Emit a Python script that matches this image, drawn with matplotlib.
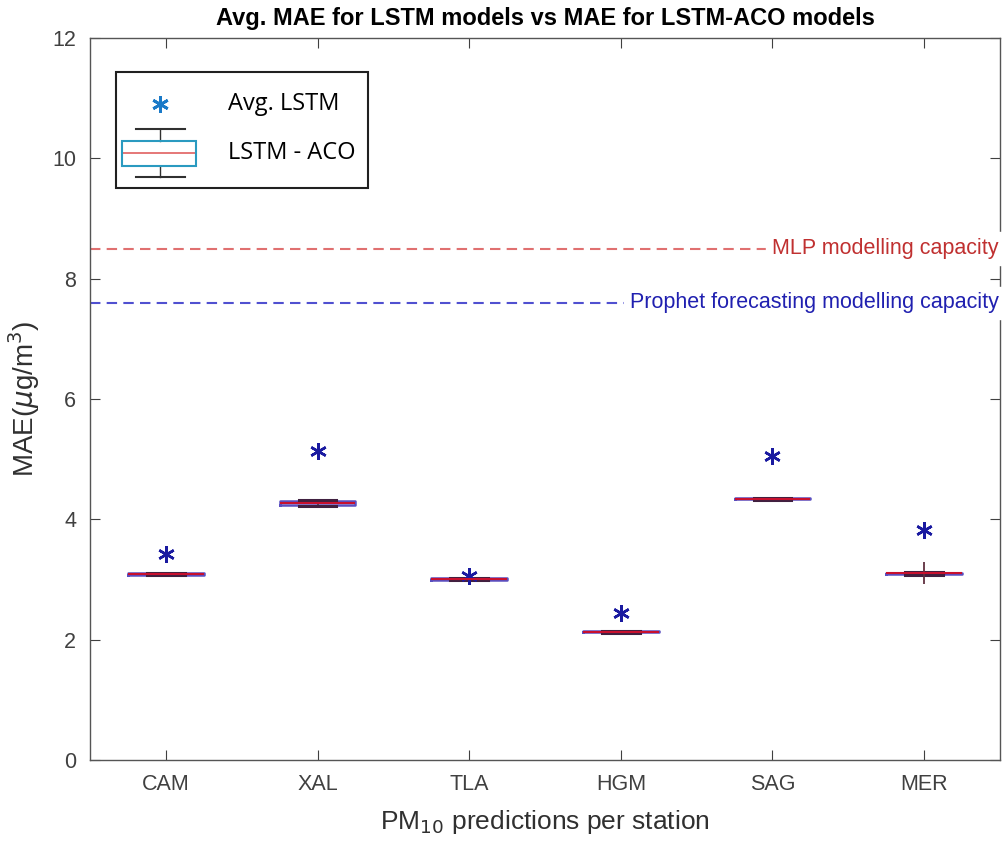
import matplotlib
matplotlib.use("Agg")
import matplotlib.pyplot as plt
from matplotlib.patches import Rectangle
from matplotlib.lines import Line2D

stations = ["CAM", "XAL", "TLA", "HGM", "SAG", "MER"]
avg_lstm = [3.42, 5.13, 3.05, 2.45, 5.05, 3.82]
aco_med = [3.09, 4.27, 3.01, 2.13, 4.34, 3.10]
aco_q1 = [3.08, 4.24, 3.00, 2.12, 4.33, 3.09]
aco_q3 = [3.10, 4.30, 3.02, 2.14, 4.35, 3.11]
aco_lo = [3.07, 4.22, 2.99, 2.11, 4.32, 3.08]
aco_hi = [3.11, 4.32, 3.03, 2.15, 4.36, 3.12]
aco_outliers = [[], [], [], [], [], [3.10]]
mlp_capacity = 8.5
prophet_capacity = 7.6

plt.rcParams['font.family'] = ['Liberation Sans', 'DejaVu Sans']
fig = plt.figure(figsize=(10.06, 8.43), dpi=100)
ax = fig.add_axes([90/1006, 83/843, 910/1006, 722/843])

gray = '#404040'
stats = []
for i, s in enumerate(stations):
    stats.append(dict(label=s, med=aco_med[i], q1=aco_q1[i], q3=aco_q3[i],
                      whislo=aco_lo[i], whishi=aco_hi[i], fliers=aco_outliers[i]))
pos = list(range(1, len(stations) + 1))
ax.bxp(stats, positions=pos, widths=0.5, showfliers=True, patch_artist=False,
       boxprops=dict(color='#5a4fc0', linewidth=1.8),
       medianprops=dict(color='#c8102e', linewidth=1.5),
       whiskerprops=dict(color='#303030', linewidth=1.2),
       capprops=dict(color='#402040', linewidth=2.2), capwidths=0.25,
       flierprops=dict(marker='+', markersize=16, markeredgewidth=1.3,
                       markeredgecolor='#603040', linestyle='none'))
ax.plot(pos, avg_lstm, linestyle='none', marker=(6, 2, 0), markersize=12,
        markeredgewidth=1.8, color='#1a1aa0')

ax.axhline(mlp_capacity, color='#e07070', linestyle=(0, (5, 3)), linewidth=1.5, zorder=1)
ax.axhline(prophet_capacity, color='#5050d0', linestyle=(0, (5, 3)), linewidth=1.5, zorder=1)
ax.text(6.49, mlp_capacity, 'MLP modelling capacity', color='#c03030', fontsize=15.5,
        ha='right', va='center', backgroundcolor='white')
ax.text(6.49, prophet_capacity, 'Prophet forecasting modelling capacity', color='#2020b0',
        fontsize=15.5, ha='right', va='center', backgroundcolor='white')

ax.set_xlim(0.5, 6.5)
ax.set_ylim(0, 12)
ax.set_xticks(pos)
ax.set_xticklabels(stations)
ax.set_yticks([0, 2, 4, 6, 8, 10, 12])
ax.tick_params(direction='in', top=True, right=True, labelsize=15.5, colors=gray,
               length=7, pad=10)
for sp in ax.spines.values():
    sp.set_color('#555555')
    sp.set_linewidth(1.0)

ax.set_title('Avg. MAE for LSTM models vs MAE for LSTM-ACO models', fontsize=17,
             fontweight='bold', pad=9)
ax.set_ylabel('MAE($\\mu$g/m$^3$)', fontsize=20, color='#303030')
ax.yaxis.set_label_coords(-0.053, 0.5)
ax.set_xlabel('PM$_{10}$ predictions per station', fontsize=19, color='#303030')
ax.xaxis.set_label_coords(0.5, -0.066)

# Manual legend
def fx(px):
    return px / 1006
def fy(py):
    return 1 - py / 843
fig.patches.append(Rectangle((fx(116), fy(188)), fx(368) - fx(116), fy(72) - fy(188),
                             transform=fig.transFigure, fill=True, facecolor='white',
                             edgecolor='#202020', linewidth=1.5, zorder=5))
fig.lines.append(Line2D([fx(160)], [fy(104)], transform=fig.transFigure, marker=(6, 2, 0),
                        markersize=12, markeredgewidth=2.0, color='#1a7ac8', linestyle='none', zorder=6))
for (x0, x1, y0, y1, c, lw) in [
    (136, 185, 129, 129, '#303030', 1.5), (136, 185, 177, 177, '#303030', 1.5),
    (160, 160, 129, 141, '#303030', 1.0), (160, 160, 166, 177, '#303030', 1.0),
    (122, 196, 153, 153, '#e06060', 1.2)]:
    fig.lines.append(Line2D([fx(x0), fx(x1)], [fy(y0), fy(y1)], transform=fig.transFigure,
                            color=c, linewidth=lw, zorder=6))
fig.patches.append(Rectangle((fx(122), fy(166)), fx(196) - fx(122), fy(141) - fy(166),
                             transform=fig.transFigure, fill=False, edgecolor='#2a9ac0',
                             linewidth=1.5, zorder=6))
fig.text(fx(228), fy(104), 'Avg. LSTM', fontsize=17, va='center', ha='left',
         family=['Open Sans', 'DejaVu Sans'], zorder=7)
fig.text(fx(228), fy(153), 'LSTM - ACO', fontsize=17, va='center', ha='left',
         family=['Open Sans', 'DejaVu Sans'], zorder=7)

fig.savefig('out.png', dpi=100)
